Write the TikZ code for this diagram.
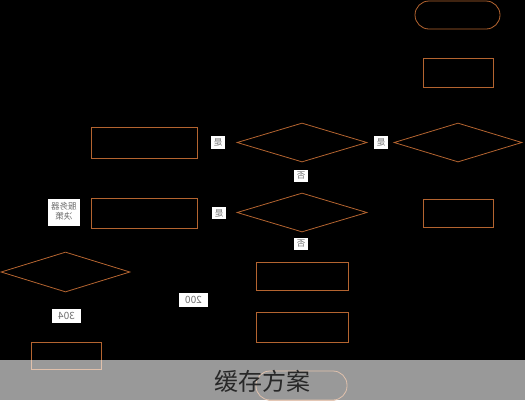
\documentclass[tikz,border=0pt]{standalone}
\usepackage{fontspec}
\usepackage{graphicx}
\newfontfamily\cjk{Noto Sans CJK SC}
\usetikzlibrary{shapes.geometric}
\definecolor{lineor}{RGB}{180,100,48}
\definecolor{labtxt}{RGB}{110,110,110}
\tikzset{
  boxshape/.style={draw=lineor, line width=0.8pt, inner sep=0pt},
  rectbox/.style={boxshape, rectangle},
  termbox/.style={boxshape, rectangle, rounded corners=14pt},
  diabox/.style={boxshape, diamond},
  lab/.style={fill=white, text=labtxt, inner sep=2.5pt, font=\cjk\fontsize{8.5}{9.5}\selectfont, align=center},
  numlab/.style={lab, minimum width=29pt, minimum height=14pt, inner sep=1pt, font=\cjk\fontsize{10}{11}\selectfont},
}
\begin{document}
\begin{tikzpicture}[x=1pt,y=-1pt]
\useasboundingbox (0,0) rectangle (525,400);
\fill[black] (0,0) rectangle (525,400);
% right column
\node[termbox, minimum width=85pt, minimum height=28pt] (start) at (457.5,15) {};
\node[rectbox, minimum width=70pt, minimum height=29pt] (r1) at (458,72.5) {};
\node[diabox, minimum width=128pt, minimum height=39pt] (d1) at (458,142.5) {};
\node[rectbox, minimum width=70pt, minimum height=28pt] (r2) at (458,213) {};
% middle column
\node[diabox, minimum width=130pt, minimum height=39pt] (d2) at (302,142.5) {};
\node[diabox, minimum width=130pt, minimum height=39pt] (d3) at (302,212.5) {};
\node[rectbox, minimum width=92pt, minimum height=28pt] (r3) at (302,276) {};
\node[rectbox, minimum width=92pt, minimum height=30pt] (r4) at (302,327) {};
\node[termbox, minimum width=91pt, minimum height=29pt] (endt) at (301.5,385.5) {};
% left column
\node[rectbox, minimum width=106pt, minimum height=31pt] (l1) at (144,142.5) {};
\node[rectbox, minimum width=106pt, minimum height=30pt] (l2) at (144,213) {};
\node[diabox, minimum width=129pt, minimum height=40pt] (d4) at (65.5,272) {};
\node[rectbox, minimum width=70pt, minimum height=27pt] (l3) at (66,355.5) {};
% labels
\node[lab] (y1) at (381,142.5) {\reflectbox{是}};
\node[lab] (y2) at (218,142.5) {\reflectbox{是}};
\node[lab] (n1) at (301,176) {\reflectbox{否}};
\node[lab] (y3) at (219,213) {\reflectbox{是}};
\node[lab] (n2) at (301,244) {\reflectbox{否}};
\node[lab, inner sep=3pt] (srv) at (64,212.5) {\reflectbox{\begin{tabular}{@{}c@{}}服务器\\决策\end{tabular}}};
\node[numlab] (c200) at (193.5,299.5) {\reflectbox{200}};
\node[numlab] (c304) at (66.5,316) {\reflectbox{304}};
% caption band
\fill[white, opacity=0.6] (0,360) rectangle (525,400);
\node[font=\cjk\fontsize{24}{26}\selectfont, text={rgb,255:red,40;green,40;blue,40}, inner sep=0pt] (cap) at (262,381) {缓存方案};
\end{tikzpicture}
\end{document}
